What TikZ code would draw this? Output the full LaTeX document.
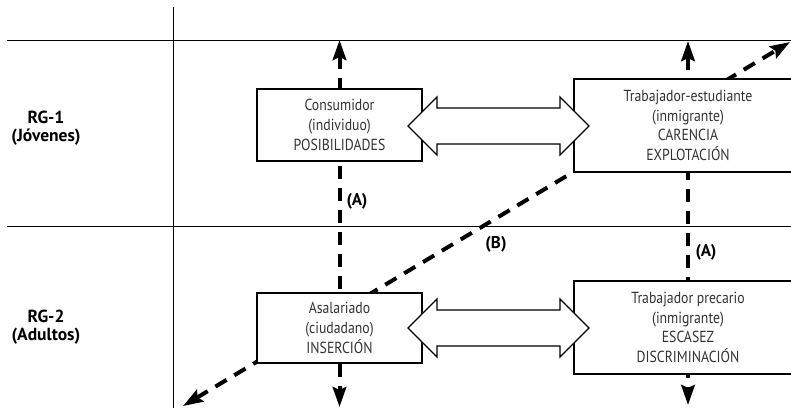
\documentclass[tikz,border=0pt]{standalone}
\usepackage{fontspec}
\setmainfont{PT Sans}
\newfontfamily\boxfont[FakeStretch=0.86]{PT Sans}
\usetikzlibrary{arrows.meta,calc}
\begin{document}
\begin{tikzpicture}[x=1pt,y=-1pt,
  rule/.style={line width=0.9pt, black},
  rolebox/.style={draw, line width=1.1pt, fill=white, rectangle, inner sep=0pt,
    align=center, font=\boxfont\fontsize{16}{19.8}\selectfont, text=black!80},
  flowtip/.tip={Stealth[length=20pt,width=13.5pt,inset=3pt]},
  flow/.style={line width=4pt, dash pattern=on 13pt off 9pt, flowtip-flowtip},
  exchange/.style={draw, line width=1.1pt, fill=white, line join=miter},
  grouplabel/.style={align=center, font=\bfseries\fontsize{17.5}{18}\selectfont},
  flowlabel/.style={font=\bfseries\fontsize{17}{18}\selectfont}
]
\useasboundingbox (0,0) rectangle (791,408);
\clip (0,0) rectangle (791,408);

% grid of the two age groups
\draw[rule] (7,40) -- (791,40);
\draw[rule] (7,226) -- (791,226);
\draw[rule] (173,7) -- (173,408);

% ends of the flows
\coordinate (lt) at (339.5,40);
\coordinate (lb) at (339.5,407);
\coordinate (rt) at (688,41);
\coordinate (rb) at (688,405);
\coordinate (dl) at (183,406);
\coordinate (dr) at (790,42);

% flows (A) and (B)
\draw[flow] (lt) -- (lb);
\draw[flow] (rt) -- (rb);
\draw[flow] (dl) -- (dr);

% the four positions
\node[rolebox, minimum width=165pt, minimum height=72pt] (cons) at (339.5,125)
  {Consumidor\\(individuo)\\POSIBILIDADES};
\node[rolebox, minimum width=228pt, minimum height=93pt] (estu) at (688,125.5)
  {Trabajador-estudiante\\(inmigrante)\\CARENCIA\\EXPLOTACIÓN};
\node[rolebox, minimum width=165pt, minimum height=70pt] (asal) at (339.5,328)
  {Asalariado\\(ciudadano)\\INSERCIÓN};
\node[rolebox, minimum width=228pt, minimum height=93pt] (prec) at (688,327.5)
  {Trabajador precario\\(inmigrante)\\ESCASEZ\\DISCRIMINACIÓN};

% two-way exchanges between the positions
\coordinate (xu) at (498.5,126);
\coordinate (xl) at (498.5,328);
\foreach \c in {xu,xl}{
  \draw[exchange] ($(\c)+(-90.5,0)$) -- ++(29,-29) -- ++(0,11) -- ++(123,0)
    -- ++(0,-11) -- ++(29,29) -- ++(-29,29) -- ++(0,-11) -- ++(-123,0)
    -- ++(0,11) -- cycle;
}

% group labels
\node[grouplabel] (rg1) at (46,128) {RG-1\\(Jóvenes)};
\node[grouplabel] (rg2) at (46,327) {RG-2\\(Adultos)};

% flow labels
\node[flowlabel] (al) at (357,201) {(A)};
\node[flowlabel] (ar) at (706,252) {(A)};
\node[flowlabel] (b) at (496,244) {(B)};
\end{tikzpicture}
\end{document}
